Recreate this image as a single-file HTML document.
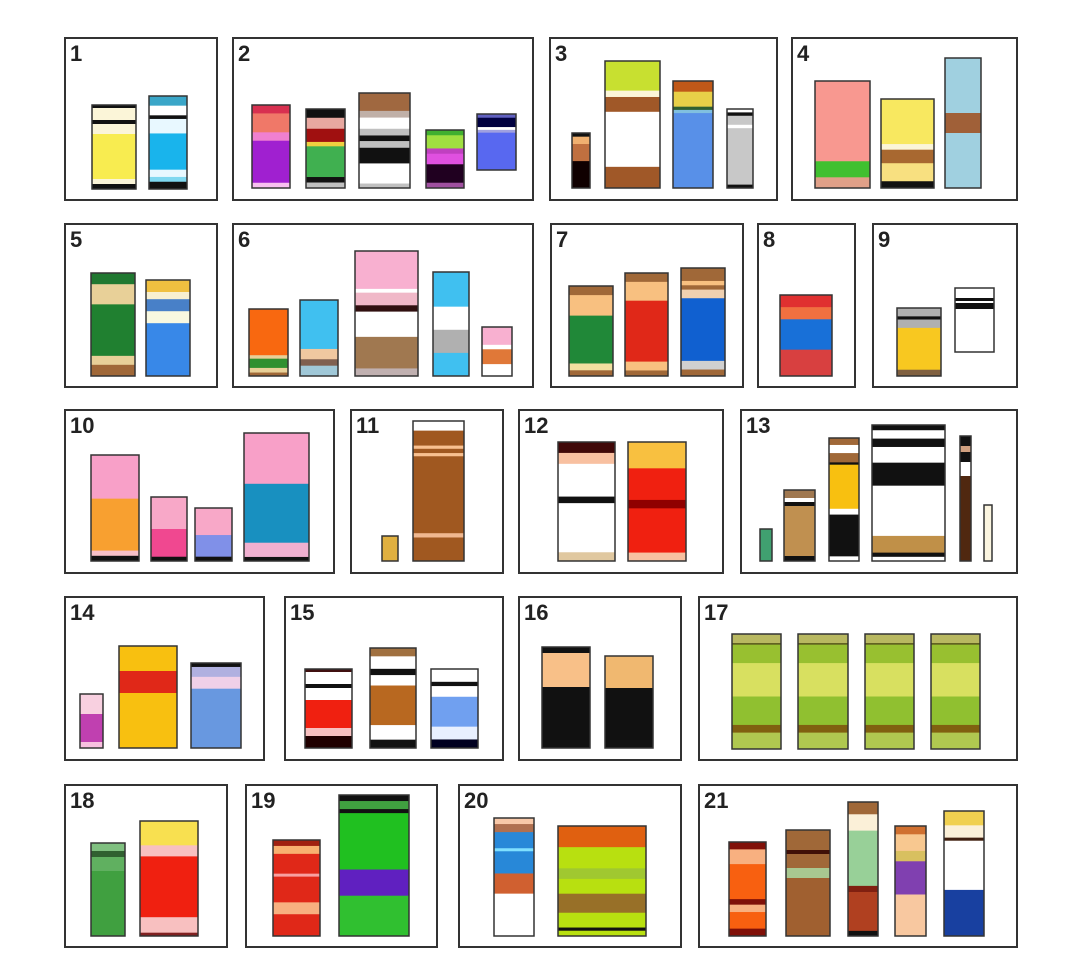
<!DOCTYPE html>
<html><head><meta charset="utf-8"><style>
html,body{margin:0;padding:0;background:#fff;}
svg{display:block;}
text{font-family:"Liberation Sans",sans-serif;font-weight:bold;font-size:22px;fill:#222;}
</style></head><body>
<svg id="chart" width="1079" height="968" viewBox="0 0 1079 968" xmlns="http://www.w3.org/2000/svg"></svg>
<script>
// panels: [label, x1, y1, x2, y2]
const panelLabels = ["1","2","3","4","5","6","7","8","9","10","11","12","13","14","15","16","17","18","19","20","21"];
const panelBoxes = [
[65,38,217,200],[233,38,533,200],[550,38,777,200],[792,38,1017,200],
[65,224,217,387],[233,224,533,387],[551,224,743,387],[758,224,855,387],[873,224,1017,387],
[65,410,334,573],[351,410,503,573],[519,410,723,573],[741,410,1017,573],
[65,597,264,760],[285,597,503,760],[519,597,681,760],[699,597,1017,760],
[65,785,227,947],[246,785,437,947],[459,785,681,947],[699,785,1017,947]];
// bars: [panel, x1, x2, top, bottom, segments [color, weight] top-down]
const G17=[["#b8b860",27],["#606020",5],["#98c030",55],["#d8e060",100],["#90c030",85],["#806010",23],["#b0c850",49]];
const bars = [
[0,92,136,105,189,[["#111",3],["#fbf5d8",12],["#111",4],["#fbf5d8",10],["#f8ec50",45],["#fbf5d8",5],["#111",5]]],
[0,149,187,96,189,[["#3aa6c8",8],["#fff",8],["#111",3],["#e8f8ff",12],["#19b4ec",30],["#e8f8ff",6],["#80d8f0",4],["#111",6]]],
[1,252,290,105,188,[["#d83050",8],["#f07868",18],["#f080d0",8],["#a020d0",40],["#f8c0f0",5]]],
[1,306,345,109,188,[["#111",8],["#e8a8a0",10],["#a01010",12],["#f0d040",4],["#40b050",28],["#111",5],["#c0c0c0",5]]],
[1,359,410,93,188,[["#a06840",16],["#c0b0a8",6],["#fff",10],["#c0c0c0",6],["#111",5],["#c0c0c0",6],["#111",14],["#fff",18],["#c0c0c0",4]]],
[1,426,464,130,188,[["#40b030",4],["#a0e040",10],["#c040c0",4],["#e050e0",8],["#200020",14],["#a050a0",4]]],
[1,477,516,114,170,[["#6060c0",4],["#000040",10],["#fff",3],["#a0a0e0",3],["#5868f0",40]]],
[2,572,590,133,188,[["#111",3],["#f0b070",6],["#c07040",14],["#100000",22]]],
[2,605,660,61,188,[["#c8e030",28],["#fbf5d8",6],["#a05828",14],["#fff",52],["#a05828",20]]],
[2,673,713,81,188,[["#c05818",10],["#e8d048",14],["#306030",3],["#80c0e0",3],["#5890e8",70]]],
[2,727,753,109,188,[["#fff",3],["#111",3],["#c8c8c8",8],["#fff",3],["#c8c8c8",50],["#111",3]]],
[3,815,870,81,188,[["#f89890",75],["#40c030",15],["#e0a088",10]]],
[3,881,934,99,188,[["#f8e860",40],["#fbf5d8",5],["#a86830",12],["#f8e080",16],["#111",6]]],
[3,945,981,58,188,[["#a0d0e0",55],["#a06038",20],["#a0d0e0",55]]],
[4,91,135,273,376,[["#207830",10],["#e8d098",18],["#208030",46],["#e8d098",8],["#a06838",10]]],
[4,146,190,280,376,[["#f0c040",10],["#f8f0d0",6],["#4880c8",10],["#f8f8e0",10],["#3888e8",44]]],
[5,249,288,309,376,[["#f86810",40],["#e8d098",3],["#309030",8],["#e8d098",4],["#a06838",3]]],
[5,300,338,300,376,[["#40c0f0",38],["#f0c8a0",8],["#806050",5],["#a0c8d8",8]]],
[5,355,418,251,376,[["#f8b0d0",30],["#fff",3],["#f0b8c8",10],["#301010",5],["#fff",20],["#a07850",25],["#c0b0b0",6]]],
[5,433,469,272,376,[["#40c0f0",30],["#fff",20],["#b0b0b0",20],["#40c0f0",20]]],
[5,482,512,327,376,[["#f8b0d0",12],["#fff",3],["#e07838",10],["#fff",8]]],
[6,569,613,286,376,[["#a06838",8],["#f8c080",18],["#208838",42],["#f0e0a0",6],["#a06838",5]]],
[6,625,668,273,376,[["#a06838",8],["#f8c080",17],["#e02818",55],["#f8c080",8],["#a06838",5]]],
[6,681,725,268,376,[["#a06838",12],["#f8c080",4],["#a06838",4],["#f0d0b0",8],["#1060d0",58],["#d0d0d0",8],["#a06838",6]]],
[7,780,832,295,376,[["#e03030",12],["#f07040",12],["#1870d8",30],["#d84040",26]]],
[8,897,941,308,376,[["#b0b0b0",8],["#111",3],["#b0b0b0",8],["#f8c820",40],["#806040",6]]],
[8,955,994,288,352,[["#fff",10],["#111",3],["#fff",2],["#111",6],["#fff",43]]],
[9,91,139,455,561,[["#f8a0c8",42],["#f8a030",50],["#f8c0c8",5],["#111",5]]],
[9,151,187,497,561,[["#f8a8c8",30],["#f04890",26],["#111",4]]],
[9,195,232,508,561,[["#f8a8c8",25],["#8090e8",20],["#111",4]]],
[9,244,309,433,561,[["#f8a0c8",50],["#1890c0",58],["#f0b0d0",14],["#111",4]]],
[10,382,398,536,561,[["#e0b040",1]]],
[10,413,464,421,561,[["#fff",9],["#a05820",14],["#f8c090",3],["#a05820",4],["#f8c090",3],["#a05820",72],["#f0b890",4],["#a05820",22]]],
[11,558,615,442,561,[["#400808",10],["#f8c0a0",10],["#fff",30],["#111",6],["#fff",45],["#e0c8a0",8]]],
[11,628,686,442,561,[["#f8c040",25],["#f02010",30],["#900000",8],["#f02010",42],["#f8c0a0",8]]],
[12,760,772,529,561,[["#40a070",1]]],
[12,784,815,490,561,[["#a07850",8],["#fff",4],["#111",4],["#c09050",50],["#111",5]]],
[12,829,859,438,561,[["#a06838",6],["#fff",7],["#a06838",8],["#111",2],["#f8c010",38],["#fff",5],["#111",36],["#fff",4]]],
[12,872,945,425,561,[["#111",5],["#fff",8],["#111",8],["#fff",15],["#111",22],["#fff",48],["#c09048",16],["#111",4],["#fff",4]]],
[12,960,971,436,561,[["#111",10],["#d0a080",6],["#111",10],["#fff",14],["#502810",85]]],
[12,984,992,505,561,[["#fbf5e0",1]]],
[13,80,103,694,748,[["#f8d0e0",20],["#c040b0",28],["#f8c0e0",6]]],
[13,119,177,646,748,[["#f8c010",25],["#e02818",22],["#f8c010",55]]],
[13,191,241,663,748,[["#111",4],["#b0b0e0",10],["#f0d0e8",12],["#6898e0",60]]],
[14,305,352,669,748,[["#401010",3],["#fff",12],["#111",4],["#fff",12],["#f02010",28],["#f8c0c0",8],["#200000",12]]],
[14,370,416,648,748,[["#a07040",8],["#fff",12],["#111",6],["#fff",10],["#b86820",38],["#fff",14],["#111",8]]],
[14,431,478,669,748,[["#fff",12],["#111",4],["#fff",10],["#70a0f0",28],["#e8f0ff",12],["#000020",8]]],
[15,542,590,647,748,[["#111",6],["#f8c088",34],["#111",61]]],
[15,605,653,656,748,[["#f0b870",32],["#111",60]]],
[16,732,781,634,749,G17],[16,798,848,634,749,G17],[16,865,914,634,749,G17],[16,931,980,634,749,G17],
[17,91,125,843,936,[["#80c080",8],["#306030",6],["#60b060",14],["#40a040",65]]],
[17,140,198,821,936,[["#f8e050",22],["#f8c0c0",10],["#f02010",55],["#f8c0c0",14],["#802020",3]]],
[18,273,320,840,936,[["#a02010",6],["#f8b070",8],["#e02818",20],["#f8a0a0",3],["#e02818",26],["#f8b080",12],["#e02818",22]]],
[18,339,409,795,936,[["#111",6],["#40a040",8],["#111",4],["#20c020",56],["#6020c0",26],["#30c030",40]]],
[19,494,534,818,936,[["#f8c8a8",6],["#b07050",8],["#2888d8",16],["#80e0ff",3],["#2888d8",22],["#d06030",20],["#fff",42]]],
[19,558,646,826,936,[["#e06010",20],["#b8e010",20],["#a0c830",10],["#b8e010",14],["#987028",18],["#b8e010",14],["#111",3],["#b8e010",5]]],
[20,729,766,842,936,[["#801008",8],["#f8b080",16],["#f86010",38],["#801008",6],["#f8b080",8],["#f86010",18],["#801008",8]]],
[20,786,830,830,936,[["#a06838",20],["#401008",4],["#a06838",14],["#a8c890",10],["#a06030",58]]],
[20,848,878,802,936,[["#a06838",12],["#fbf0d8",16],["#98d098",54],["#802010",6],["#b04020",38],["#111",5]]],
[20,895,926,826,936,[["#d07030",8],["#f8c890",16],["#d8c060",10],["#8040b0",32],["#f8c8a0",40]]],
[20,944,984,811,936,[["#f0d050",14],["#fbf0d8",12],["#402010",3],["#fff",48],["#1840a0",45]]]
];
const NS="http://www.w3.org/2000/svg";
const svg=document.getElementById('chart');
function mk(tag,attrs){const e=document.createElementNS(NS,tag);for(const k in attrs)e.setAttribute(k,attrs[k]);return e;}
panelBoxes.forEach((b,i)=>{
  const g=mk('g',{});
  
  
  const r=mk('rect',{x:b[0],y:b[1],width:b[2]-b[0],height:b[3]-b[1],fill:'#fff',stroke:'#333','stroke-width':2});
  
  
  g.appendChild(r);
  const t=mk('text',{x:b[0]+5,y:b[1]+23});
  
  
  t.textContent=panelLabels[i];
  g.appendChild(t);
  svg.appendChild(g);
});
bars.forEach((b,i)=>{
  const [p,x1,x2,top,bot,segs]=b;
  const g=mk('g',{});
  
  
  const total=segs.reduce((s,v)=>s+v[1],0);
  const h=bot-top;
  let y=top;
  segs.forEach(s=>{
    const sh=s[1]/total*h;
    const r=mk('rect',{x:x1,y:y,width:x2-x1,height:sh+0.5,fill:s[0]});
    
    
    g.appendChild(r);
    y+=sh;
  });
  const o=mk('rect',{x:x1,y:top,width:x2-x1,height:h,fill:'none',stroke:'#333','stroke-width':1.5});
  
  
  g.appendChild(o);
  svg.appendChild(g);
});
</script>
</body></html>
